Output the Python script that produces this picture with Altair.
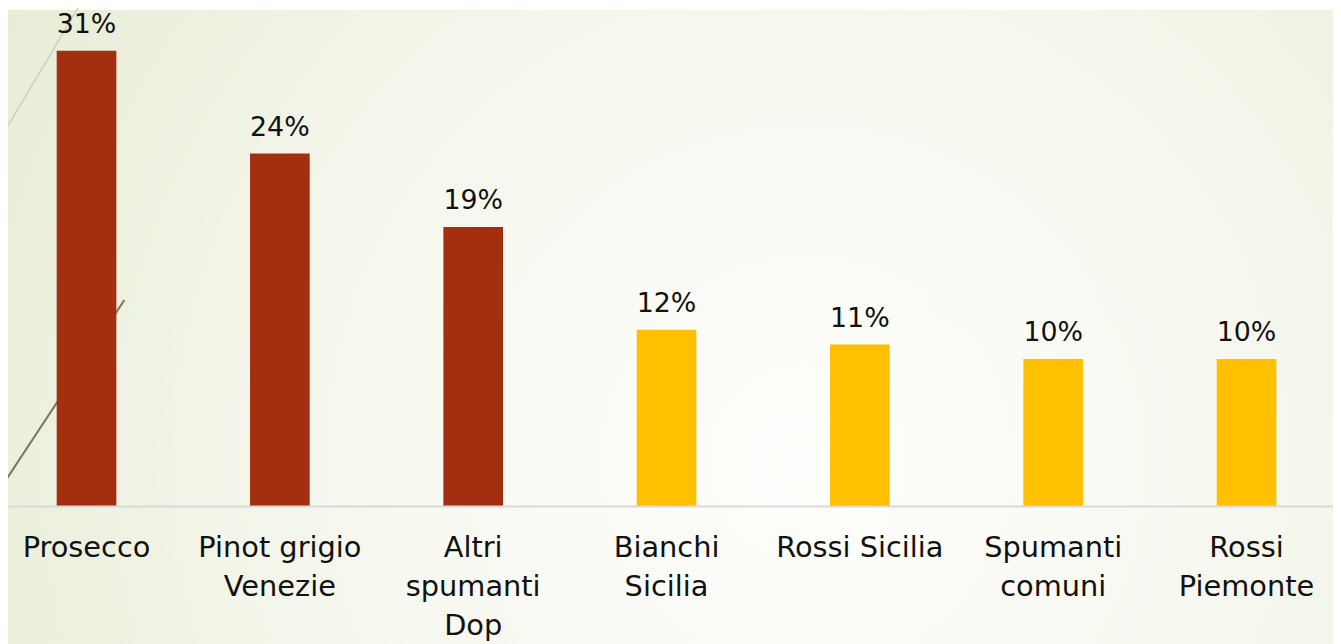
import altair as alt
import pandas as pd

categories = ["Prosecco", "Pinot grigio|Venezie", "Altri|spumanti|Dop", "Bianchi|Sicilia",
              "Rossi Sicilia", "Spumanti|comuni", "Rossi|Piemonte"]
values = [31, 24, 19, 12, 11, 10, 10]
groups = ["top", "top", "top", "other", "other", "other", "other"]
labels = [f"{v}%" for v in values]

df = pd.DataFrame({"cat": categories, "val": values, "grp": groups, "lab": labels})

W, H = 1333, 499
FONT = "DejaVu Sans"

x_enc = alt.X("cat:N", sort=None,
              scale=alt.Scale(range=[-18.25, 1343.25], paddingInner=0.691, paddingOuter=0.3455),
              axis=alt.Axis(title=None, labelExpr="split(datum.label, '|')", labelAngle=0,
                            labelFont=FONT, labelFontSize=29, labelColor="#111111",
                            labelLineHeight=39, labelBaseline="top", labelPadding=28,
                            ticks=False, domainColor="#D9D9D9", domainWidth=2, zindex=1,
                            labelOverlap=False, labelBound=False, labelFlush=False))
y_enc = alt.Y("val:Q", scale=alt.Scale(domain=[0, H / 14.77], nice=False), axis=None)

bg_df = pd.DataFrame({"k": [0]})
bg = alt.Chart(bg_df).mark_rect(
    fill=alt.Gradient(gradient="radial", x1=0.6, y1=0.6, r1=0, x2=0.6, y2=0.6, r2=0.75,
                      stops=[alt.GradientStop(offset=0, color="#FEFEFC"),
                             alt.GradientStop(offset=0.45, color="#F6F8EF"),
                             alt.GradientStop(offset=1, color="#E5EBD2")])
).encode(x=alt.value(0), x2=alt.value(W + 8), y=alt.value(0), y2=alt.value(644))

deco1 = alt.Chart(bg_df).mark_rule(color="#CDD0BE", strokeWidth=1.5).encode(
    x=alt.value(-8), y=alt.value(130), x2=alt.value(74), y2=alt.value(-8))
deco2 = alt.Chart(bg_df).mark_rule(color="#7D775C", strokeWidth=2).encode(
    x=alt.value(-8), y=alt.value(482), x2=alt.value(117), y2=alt.value(292))

base = alt.Chart(df).encode(x=x_enc, y=y_enc)
bars = base.mark_bar(size=60).encode(
    color=alt.Color("grp:N", scale=alt.Scale(domain=["top", "other"], range=["#A32E10", "#FFC000"]),
                    legend=None))
text = base.mark_text(font=FONT, fontSize=27, color="#111111", baseline="alphabetic", dy=-18).encode(
    text="lab:N")

chart = alt.layer(bg, deco1, deco2, bars, text).properties(
    width=W, height=H,
    autosize=alt.AutoSizeParams(type="none"),
    padding={"left": 0, "top": 0, "right": 0, "bottom": 137},
).configure_view(stroke=None)

chart.save("out.html", embed_options={"renderer": "svg", "actions": False})
